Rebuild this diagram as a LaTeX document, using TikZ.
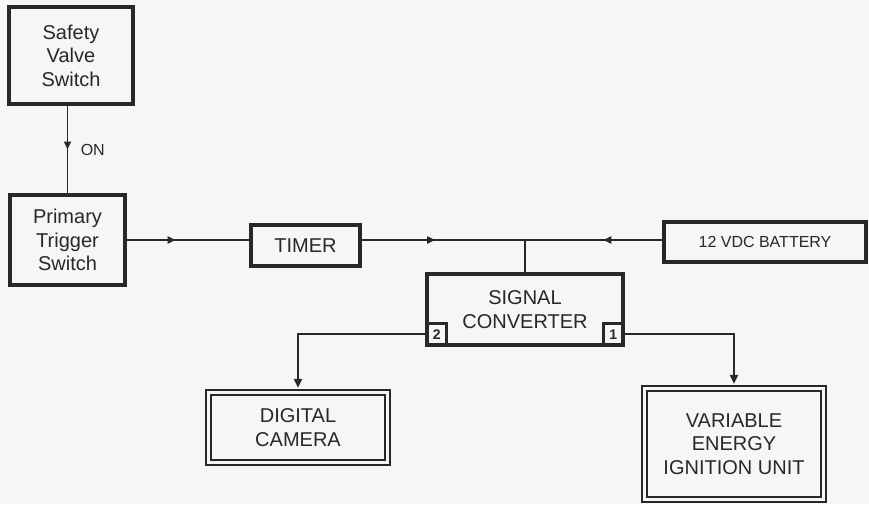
\documentclass[tikz,border=0pt]{standalone}
\usepackage{fontspec}
\setmainfont{Liberation Sans}
\definecolor{inkgray}{RGB}{40,40,40}
\definecolor{papergray}{RGB}{246,246,246}
\usetikzlibrary{arrows.meta,positioning,decorations.markings}

\tikzset{
  blockbox/.style={draw=inkgray, line width=3.2pt, inner sep=0pt, align=center,
                   text=inkgray, font=\fontsize{20}{23.5}\selectfont},
  outbox/.style={blockbox, line width=2.2pt, double=papergray, double distance=2.6pt},
  portbox/.style={draw=inkgray, line width=2.6pt, inner sep=0pt, minimum width=20pt,
                  minimum height=22pt, text=inkgray, font=\fontsize{14}{14}\selectfont\bfseries},
  wire/.style={draw=inkgray, color=inkgray, line width=1.9pt},
  midarrow/.style={wire, postaction={decorate}, decoration={markings,
      mark=at position #1 with {\arrow{Triangle[length=8pt,width=7pt]}}}},
  midarrow/.default=0.5,
  endarrow/.style={wire, -{Triangle[length=9pt,width=8pt]}, shorten >=3.5pt}
}

\begin{document}
\begin{tikzpicture}[x=1pt, y=-1pt]
    \fill[papergray] (0,0) rectangle (869,504);
    \useasboundingbox (0,0) rectangle (869,504);

    % switches
    \node[blockbox, minimum width=124pt, minimum height=97pt] (svs) at (71,55.5)
      {Safety\\Valve\\Switch};
    \node[blockbox, minimum width=115pt, minimum height=90pt] (pts) at (67.5,240)
      {Primary\\Trigger\\Switch};

    % timer, battery, converter
    \node[blockbox, minimum width=109pt, minimum height=41pt] (timer) at (305.5,245.5) {TIMER};
    \node[blockbox, minimum width=202pt, minimum height=40pt,
          font=\fontsize{16}{19}\selectfont] (battery) at (765,242) {12 VDC BATTERY};
    \node[blockbox, minimum width=196pt, minimum height=71pt] (conv) at (525,309.5)
      {SIGNAL\\CONVERTER};
    \node[portbox, anchor=south west] (port2) at (conv.south west) {2};
    \node[portbox, anchor=south east] (port1) at (conv.south east) {1};

    % outputs
    \node[outbox, minimum width=179pt, minimum height=70pt] (camera) at (298,427.5)
      {DIGITAL\\CAMERA};
    \node[outbox, minimum width=179pt, minimum height=111pt] (ignition) at (734,444)
      {VARIABLE\\ENERGY\\IGNITION UNIT};

    \coordinate (junction) at (conv.north |- pts.east);

    % connectors
    \draw[midarrow] (pts.north |- svs.south) -- node[right=9pt, text=inkgray,
      font=\fontsize{16}{19}\selectfont] {ON} (pts.north);
    \draw[midarrow=0.4] (pts.east) -- (timer.west |- pts.east);
    \draw[midarrow=0.45] (timer.east |- pts.east) -- (junction);
    \draw[midarrow=0.43] (battery.west |- pts.east) -- (junction);
    \draw[wire] (junction) -- (conv.north);
    \draw[endarrow] (port2.west) -| (camera.north);
    \draw[endarrow] (port1.east) -| (ignition.north);
\end{tikzpicture}
\end{document}
